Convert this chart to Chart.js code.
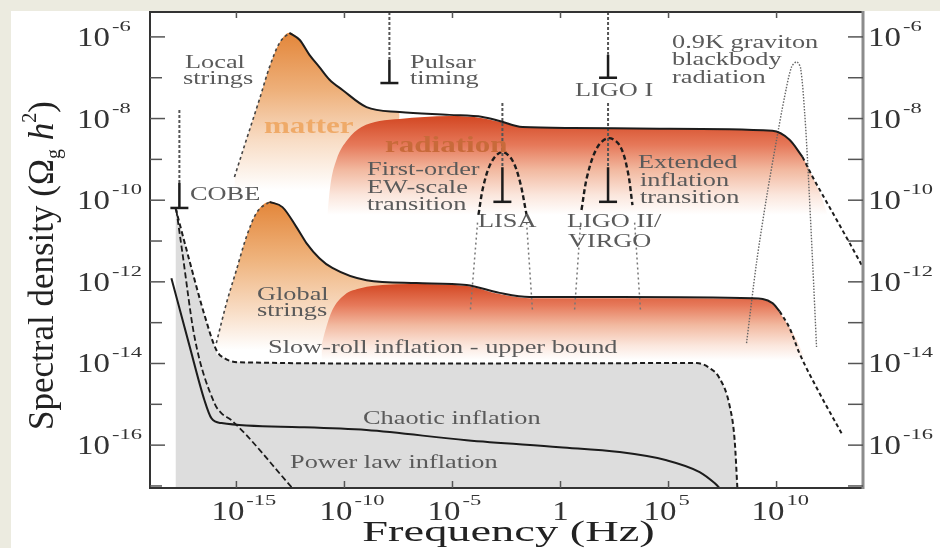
<!DOCTYPE html>
<html>
<head>
<meta charset="utf-8">
<script src="https://cdn.jsdelivr.net/npm/chart.js@4.4.1/dist/chart.umd.min.js"></script>
<style>
  html, body { margin: 0; padding: 0; background: #fff; }
</style>
</head>
<body>
<canvas id="c" width="940" height="548"></canvas>
<script>
// all values are log10: frequency in Hz, spectral density Omega_g h^2
const X_MIN = -19, X_MAX = 14
const Y_MIN = -17.05, Y_MAX = -5.39
const xTicks = [-15, -10, -5, 0, 5, 10]
const yTicks = [-16, -14, -12, -10, -8, -6]
const yMinor = [-17, -15, -13, -11, -9, -7]

// local strings (upper curve)
const localRiseX = [-15.09, -14.54, -13.94, -13.47, -13.01, -12.55]
const localRiseY = [-9.43, -8.52, -7.54, -6.74, -6.15, -5.90]
const localX = [-12.55, -12.08, -11.62, -11.16, -10.69, -10.09, -8.98, -7.45, -5.14, -3.61, -2.82, -1.76, 0.56, 4.58, 9.81, 10.60, 11.20]
const localY = [-5.90, -6.07, -6.44, -6.74, -7.05, -7.30, -7.72, -7.84, -7.91, -7.96, -8.06, -8.21, -8.23, -8.25, -8.30, -8.52, -8.94]
const localTailX = [11.20, 11.67, 12.45, 13.38, 13.94]
const localTailY = [-8.94, -9.43, -10.17, -11.05, -11.59]

// global strings (lower curve)
const globalRiseX = [-15.93, -15.46, -15.00, -14.54, -14.07, -13.47]
const globalRiseY = [-13.50, -12.52, -11.71, -10.90, -10.31, -10.04]
const globalX = [-13.47, -12.87, -12.22, -11.76, -11.16, -10.56, -8.98, -6.67, -4.35, -2.82, -1.44, 2.73, 8.89, 9.81, 10.14]
const globalY = [-10.04, -10.17, -10.66, -11.05, -11.42, -11.66, -11.96, -12.03, -12.08, -12.27, -12.37, -12.37, -12.40, -12.52, -12.72]
const globalTailX = [10.14, 10.60, 11.06, 11.99, 13.01]
const globalTailY = [-12.72, -13.13, -13.75, -14.73, -15.71]

// radiation era plateaus (shaded part only)
const radUpX = [-10.79, -10.65, -10.37, -9.86, -9.21, -8.38, -7.45, -5.14, -3.61, -2.82, -1.76, 0.56, 4.58, 9.81, 10.60, 11.20, 11.67, 12.08, 12.36]
const radUpY = [-10.36, -9.63, -9.01, -8.52, -8.21, -8.06, -8.01, -7.94, -7.99, -8.08, -8.21, -8.23, -8.25, -8.30, -8.52, -8.94, -9.43, -9.92, -10.36]
const radLowX = [-11.06, -10.88, -10.56, -10.0, -9.21, -8.24, -6.99, -4.35, -2.82, -1.44, 2.73, 8.89, 9.81, 10.28, 10.93, 11.34]
const radLowY = [-13.55, -13.18, -12.69, -12.32, -12.15, -12.08, -12.05, -12.10, -12.30, -12.40, -12.40, -12.42, -12.54, -12.86, -13.43, -13.92]

// slow-roll inflation upper bound
const slowX = [-17.82, -17.18, -16.48, -15.93, -15.56, -14.86, -7.45, 6.30, 6.90, 7.36, 7.82, 8.06, 8.19]
const slowY = [-10.19, -11.47, -12.81, -13.67, -13.87, -13.97, -14.0, -13.99, -14.11, -14.36, -15.02, -15.88, -17.1]

// chaotic inflation
const chaoticX = [-18.01, -17.18, -16.48, -16.16, -15.69, -12.08, -8.98, -4.35, -0.05, 2.73, 4.91, 6.44, 7.13, 7.45]
const chaoticY = [-11.91, -13.55, -14.90, -15.34, -15.46, -15.56, -15.63, -15.88, -16.05, -16.17, -16.37, -16.66, -16.93, -17.1]

// power law inflation
const powerX = [-17.78, -17.50, -16.94, -16.02, -15.69, -15.23, -12.41]
const powerY = [-10.24, -11.29, -13.35, -14.97, -15.22, -15.39, -17.05]

// LISA and LIGO II/VIRGO sensitivity
const lisaX = [-3.80, -3.56, -3.19, -2.73, -2.27, -1.90, -1.57]
const lisaY = [-10.36, -9.63, -9.06, -8.82, -8.99, -9.50, -10.36]
const ligo2X = [0.97, 1.25, 1.71, 2.22, 2.73, 3.10, 3.33]
const ligo2Y = [-10.24, -9.38, -8.70, -8.48, -8.65, -9.26, -10.12]
const legsX = [[-3.84, -4.17], [-1.57, -1.30], [0.93, 0.65], [3.43, 3.70]]
const legsY = [-10.55, -12.69]

// 0.9K graviton blackbody
const bbX = [8.61, 9.07, 9.54, 10.0, 10.37, 10.69, 10.93, 11.11, 11.30, 11.44, 11.67, 11.85]
const bbY = [-13.50, -11.54, -9.92, -8.52, -7.47, -6.74, -6.61, -6.76, -7.86, -9.09, -11.54, -13.60]

// upper limits: COBE, pulsar timing, LIGO I, LISA, LIGO II/VIRGO
const limitX = [-17.64, -7.92, 2.20, -2.69, 2.20]
const limitDotTop = [-7.79, -5.39, -5.39, -7.62, -7.62]
const limitStemTop = [-9.58, -6.56, -6.44, -9.19, -9.19]
const limitBar = [-10.19, -7.13, -7.00, -10.04, -10.04]

const SERIF = '"Liberation Serif", "Times New Roman", serif'
const INK = '#1c1c1c'
const NOTE = '#5a5a5a'

const P = (xs, ys) => xs.map((x, i) => ({ x: 10 ** x, y: 10 ** ys[i] }))

// vertical gradient, stops given as [log10 y, colour]
function vGrad(stops) {
  return ctx => {
    const chart = ctx.chart
    if (!chart.chartArea) return 'rgba(0,0,0,0)'
    const ys = chart.scales.y
    const p = v => ys.getPixelForValue(10 ** v)
    const y0 = p(stops[0][0]), y1 = p(stops[stops.length - 1][0])
    const g = chart.ctx.createLinearGradient(0, y0, 0, y1)
    stops.forEach(([v, c]) => g.addColorStop((p(v) - y0) / (y1 - y0), c))
    return g
  }
}

const datasets = []
const smooth = { tension: 0.4, cubicInterpolationMode: 'monotone' }
const straight = { tension: 0, cubicInterpolationMode: 'default' }

function line(xs, ys, style) {
  datasets.push(Object.assign({
    data: P(xs, ys), borderColor: INK, borderWidth: 2, pointRadius: 0, fill: false, order: 0
  }, smooth, style))
}
function shade(xs, ys, fill, bg, order) {
  datasets.push(Object.assign({
    data: P(xs, ys), borderWidth: 0, pointRadius: 0, fill, backgroundColor: bg, order
  }, smooth))
}

// shaded regions
shade(slowX, slowY, 'start', '#dddddd', 10)
shade(localRiseX.concat(localX.slice(1, 8)), localRiseY.concat(localY.slice(1, 8)), { value: 1e-10 },
  vGrad([[-5.9, '#e3863a'], [-7.3, '#eeb07a'], [-8.52, '#f8dcc4'], [-9.75, '#ffffff']]), 9)
shade(radUpX, radUpY, { value: 10 ** -10.36 },
  vGrad([[-7.99, '#d44a26'], [-8.65, '#e6795a'], [-9.26, '#f2b9a0'], [-9.87, '#fbe6dc'], [-10.36, '#ffffff']]), 8)
shade(globalRiseX.concat(globalX.slice(1, 8)), globalRiseY.concat(globalY.slice(1, 8)), { value: 10 ** -13.79 },
  vGrad([[-10.04, '#e3863a'], [-11.47, '#efb47e'], [-12.69, '#f8dcc4'], [-13.67, '#ffffff']]), 7)
shade(radLowX, radLowY, { value: 10 ** -13.97 },
  vGrad([[-12.08, '#d44a26'], [-12.57, '#e6795a'], [-13.06, '#f2b9a0'], [-13.55, '#fbe6dc'], [-13.92, '#ffffff']]), 6)

// curves
line(localRiseX, localRiseY, { borderDash: [3, 3], borderColor: '#444', borderWidth: 1.6 })
line(localX, localY, {})
line(localTailX, localTailY, { borderDash: [4, 3] })
line(globalRiseX, globalRiseY, { borderDash: [3, 3], borderColor: '#444', borderWidth: 1.6 })
line(globalX, globalY, {})
line(globalTailX, globalTailY, { borderDash: [4, 3] })
line(slowX, slowY, { borderDash: [5, 3] })
line(chaoticX, chaoticY, {})
line(powerX, powerY, { borderDash: [6, 3], borderWidth: 1.8 })
line(lisaX, lisaY, Object.assign({ borderDash: [5, 3], borderWidth: 2.4 }, { tension: 0.35, cubicInterpolationMode: 'default' }))
line(ligo2X, ligo2Y, Object.assign({ borderDash: [5, 3], borderWidth: 2.4 }, { tension: 0.35, cubicInterpolationMode: 'default' }))
legsX.forEach(xs => line(xs, legsY, Object.assign({ borderDash: [2, 3], borderColor: '#777', borderWidth: 1.5 }, straight)))
line(bbX, bbY, { borderDash: [1.5, 1.5], borderColor: '#666', borderWidth: 1.4, tension: 0.3, cubicInterpolationMode: 'default' })

// upper limit markers
limitX.forEach((x, i) => {
  line([x, x], [limitDotTop[i], limitStemTop[i]], Object.assign({ borderDash: [3, 2], borderColor: '#555', borderWidth: 2 }, straight))
  line([x, x], [limitStemTop[i], limitBar[i]], Object.assign({ borderWidth: 2.5 }, straight))
})
datasets.push({
  data: P(limitX, limitBar), showLine: false, pointStyle: 'line', pointRadius: 9,
  pointBorderWidth: 2.5, pointBorderColor: INK, order: 0
})

// annotations, pixel positions (left, baseline)
const notes = [
  ['Local', 185, 68], ['strings', 183, 84], ['COBE', 190, 200],
  ['Pulsar', 410, 68], ['timing', 410, 84], ['LIGO I', 575, 96],
  ['0.9K graviton', 672, 48], ['blackbody', 672, 65], ['radiation', 672, 83],
  ['First-order', 367, 175], ['EW-scale', 367, 193], ['transition', 367, 210],
  ['LISA', 478, 227], ['LIGO II/', 567, 227], ['VIRGO', 568, 247],
  ['Extended', 638, 168], ['inflation', 640, 186], ['transition', 640, 203],
  ['Global', 257, 300], ['strings', 257, 316],
  ['Slow-roll inflation - upper bound', 268, 353],
  ['Chaotic inflation', 363, 424], ['Power law inflation', 290, 468]
]

function txt(c, s, x, y, size, o = {}) {
  const sx = o.sx || 1.35
  c.save()
  c.font = `${o.weight || 'normal'} ${size}px ${SERIF}`
  c.fillStyle = o.color || NOTE
  const w = c.measureText(s).width * sx
  let x0 = x
  if (o.align === 'center') x0 = x - w / 2
  c.translate(x0, y)
  c.scale(sx, 1)
  c.fillText(s, 0, 0)
  c.restore()
  return w
}

const decor = {
  id: 'decor',
  beforeDraw(chart) {
    const c = chart.ctx
    c.save()
    c.fillStyle = '#ecebe0'
    c.fillRect(0, 0, chart.width, chart.height)
    c.fillStyle = '#ffffff'
    c.fillRect(11, 11, chart.width - 11, chart.height - 11)
    c.restore()
  },
  afterDraw(chart) {
    const { ctx: c, chartArea: a } = chart
    const px = e => chart.scales.x.getPixelForValue(10 ** e)
    const py = e => chart.scales.y.getPixelForValue(10 ** e)
    const seg = (x1, y1, x2, y2) => { c.beginPath(); c.moveTo(x1, y1); c.lineTo(x2, y2); c.stroke() }

    c.save()
    // frame
    c.strokeStyle = '#333'
    c.lineWidth = 2
    c.beginPath()
    c.moveTo(a.right, a.top); c.lineTo(a.left, a.top); c.lineTo(a.left, a.bottom); c.lineTo(a.right, a.bottom)
    c.stroke()
    c.strokeStyle = '#8c8c8c'
    c.lineWidth = 3
    seg(a.right, a.top - 1, a.right, a.bottom + 1)

    // ticks, pointing inward
    c.strokeStyle = '#555'
    c.lineWidth = 1.5
    yTicks.concat(yMinor).forEach(e => {
      const yy = py(e)
      seg(a.left, yy, a.left + (yTicks.includes(e) ? 15 : 12), yy)
      seg(a.right - 15, yy, a.right, yy)
    })
    xTicks.forEach(e => {
      const xx = px(e)
      seg(xx, a.bottom, xx, a.bottom - 7)
      seg(xx, a.top, xx, a.top + 6)
    })
    c.restore()

    // tick labels
    const power = (e, x, base) => {
      const w = txt(c, '10', x, base, 27, { color: '#333', sx: 1.22 })
      txt(c, String(e), x + w + 2, base - 15, 15, { color: '#333', sx: 1.5 })
    }
    yTicks.forEach(e => {
      power(e, 77, py(e) + 9)
      power(e, 868, py(e) + 9)
    })
    xTicks.forEach(e => {
      if (e === 0) txt(c, '1', px(e), 520, 27, { color: '#333', sx: 1.22, align: 'center' })
      else power(e, px(e) - 25, 520)
    })

    // notes
    notes.forEach(([s, x, y]) => txt(c, s, x, y, 19.5))
    txt(c, 'matter', 264, 133, 23, { weight: 'bold', color: 'rgba(238,168,100,0.95)' })
    txt(c, 'radiation', 385, 152, 23, { weight: 'bold', color: '#c86a3a' })

    // axis titles
    txt(c, 'Frequency (Hz)', (a.left + a.right) / 2 + 2, 541, 29, { color: '#222', align: 'center', sx: 1.6 })
    c.save()
    c.translate(53, 430)
    c.rotate(-Math.PI / 2)
    c.fillStyle = '#222'
    let t = 0
    const piece = (s, size, dy, style) => {
      c.font = `${style || ''} ${size}px ${SERIF}`
      c.fillText(s, t, dy)
      t += c.measureText(s).width
    }
    piece('Spectral density (', 35, 0)
    piece('Ω', 35, 0)
    piece('g', 20, 7)
    piece(' ', 35, 0)
    piece('h', 35, 0, 'italic')
    piece('2', 20, -17)
    piece(')', 35, 0)
    c.restore()
  }
}

new Chart(document.getElementById('c'), {
  type: 'line',
  data: { datasets },
  options: {
    responsive: false,
    animation: false,
    events: [],
    layout: { padding: { left: 150, right: 77, top: 12, bottom: 60 } },
    scales: {
      x: { type: 'logarithmic', min: 10 ** X_MIN, max: 10 ** X_MAX, display: false },
      y: { type: 'logarithmic', min: 10 ** Y_MIN, max: 10 ** Y_MAX, display: false }
    },
    plugins: { legend: { display: false }, tooltip: { enabled: false } }
  },
  plugins: [decor]
})
</script>
</body>
</html>
